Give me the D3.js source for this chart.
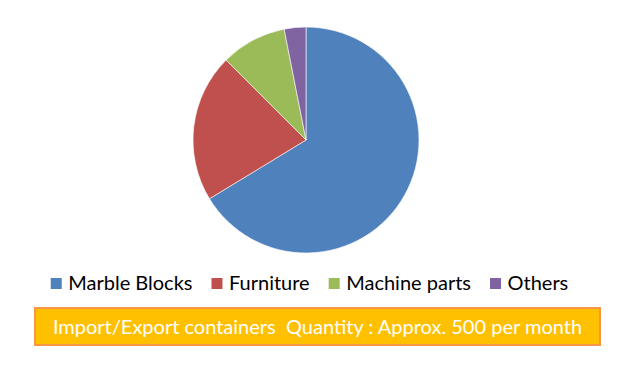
<!DOCTYPE html>
<html>
<head>
<meta charset="utf-8">
<script src="https://cdn.jsdelivr.net/npm/d3@7"></script>
<style>
  body { margin: 0; background: #fff; }
  text { font-family: Lato, "Open Sans", sans-serif; }
</style>
</head>
<body>
<script>
// chart data
const categories = ["Marble Blocks", "Furniture", "Machine parts", "Others"];
const shares = [66.3, 21.2, 9.4, 3.1];
const colors = ["#4F81BD", "#C0504D", "#9BBB59", "#8064A2"];
const note = "Import/Export containers\u00a0\u00a0Quantity : Approx. 500 per month";

const width = 640, height = 372;
const cx = 306, cy = 140, radius = 113;

const svg = d3.select("body")
    .append("svg")
    .attr("width", width)
    .attr("height", height);

// pie slices, clockwise from 12 o'clock
const pie = d3.pie().sort(null).value(d => d);
const arc = d3.arc().innerRadius(0).outerRadius(radius);

svg.append("g")
    .attr("transform", `translate(${cx},${cy})`)
    .selectAll("path")
    .data(pie(shares))
    .join("path")
    .attr("d", arc)
    .attr("fill", (d, i) => colors[i])
    .attr("stroke", "#fff")
    .attr("stroke-width", 0.6);

// legend, laid out by measured text widths
const legend = svg.append("g").attr("id", "legend");
const fontSize = 20;
const box = 11, gapText = 6.5, gapItem = 19;

const items = legend.selectAll("g")
    .data(categories)
    .join("g");

items.append("rect")
    .attr("width", box)
    .attr("height", box)
    .attr("y", 278)
    .attr("fill", (d, i) => colors[i]);

items.append("text")
    .attr("y", 290)
    .attr("font-size", fontSize)
    .attr("fill", "#000")
    .text(d => d);

let widths = [];
items.select("text").each(function () { widths.push(this.getComputedTextLength()); });
const total = d3.sum(widths) + categories.length * (box + gapText) + (categories.length - 1) * gapItem;
let xPos = 309.5 - total / 2;
items.each(function (d, i) {
    const g = d3.select(this);
    g.select("rect").attr("x", xPos);
    g.select("text").attr("x", xPos + box + gapText);
    xPos += box + gapText + widths[i] + gapItem;
});

// note box
svg.append("rect")
    .attr("x", 35)
    .attr("y", 308)
    .attr("width", 565)
    .attr("height", 37)
    .attr("fill", "#FFC000")
    .attr("stroke", "#F79646")
    .attr("stroke-width", 2);

svg.append("text")
    .attr("x", 317.5)
    .attr("y", 334)
    .attr("text-anchor", "middle")
    .attr("font-size", fontSize)
    .attr("fill", "#fff")
    .text(note);
</script>
</body>
</html>
